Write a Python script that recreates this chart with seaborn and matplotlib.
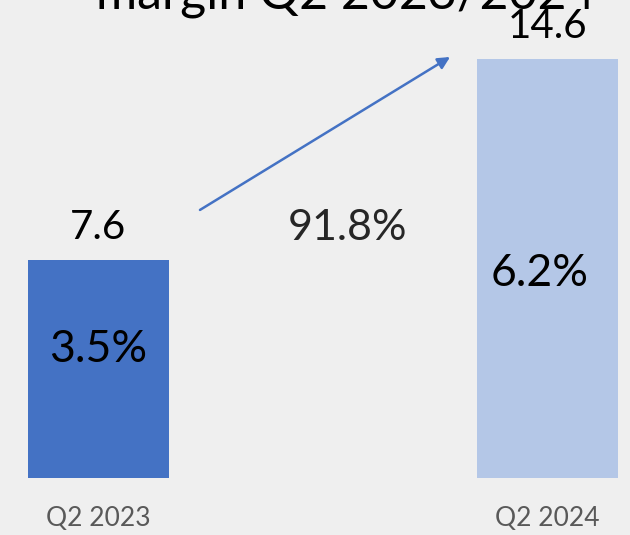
import matplotlib
matplotlib.use("Agg")
import matplotlib.pyplot as plt
import seaborn as sns
import pandas as pd

categories = ["Q2 2023", "Q2 2024"]
values = [7.6, 14.6]
margins = ["3.5%", "6.2%"]
growth = "91.8%"
title = "margin Q2 2023/2024"
colors = ["#4472C4", "#B4C7E7"]

# layout (label placement inside bars, in data units)
margin_pos = [(0.0, 4.46), (0.983, 7.13)]

sns.set_theme(style="white")
plt.rcParams['font.family'] = ['Lato', 'DejaVu Sans']

W, H = 630, 535
fig = plt.figure(figsize=(W / 100, H / 100), dpi=100)
bg = "#EFEFEF"
fig.patch.set_facecolor(bg)
ax = fig.add_axes([0, 57 / H, 1, 478 / H])
ax.set_facecolor(bg)

df = pd.DataFrame({"cat": categories, "val": values})
sns.barplot(data=df, x="cat", y="val", hue="cat", palette=colors, width=0.314,
            legend=False, ax=ax, saturation=1, linewidth=0)

scale = 449.0
ax.set_xlim(-98.5 / scale, (630 - 98.5) / scale)
ax.set_ylim(0, 478 / 28.7)
for s in ax.spines.values():
    s.set_visible(False)
ax.set_xlabel("")
ax.set_ylabel("")
ax.set_yticks([])
ax.tick_params(axis="x", length=0, pad=20, labelsize=19, labelcolor="#595959")

for i, (v, m) in enumerate(zip(values, margins)):
    ax.text(i, v + 0.5, f"{v}", ha="center", va="bottom", fontsize=29, color="#000000")
    px, py = margin_pos[i]
    ax.text(px, py, m, ha="center", va="center", fontsize=32, color="#000000")

ax.text(0.555, 8.71, growth, ha="center", va="center", fontsize=31, color="#262626")

ax.annotate("", xy=(0.783, 14.67), xytext=(0.226, 9.34),
            arrowprops=dict(arrowstyle="-|>", color="#4472C4", lw=1.8,
                            mutation_scale=18, shrinkA=0, shrinkB=0))

fig.text(346 / W, 1 - 8 / H, title, ha="center", va="baseline", fontsize=36,
         color="#000000")

fig.savefig("out.png", dpi=100, facecolor=bg)
